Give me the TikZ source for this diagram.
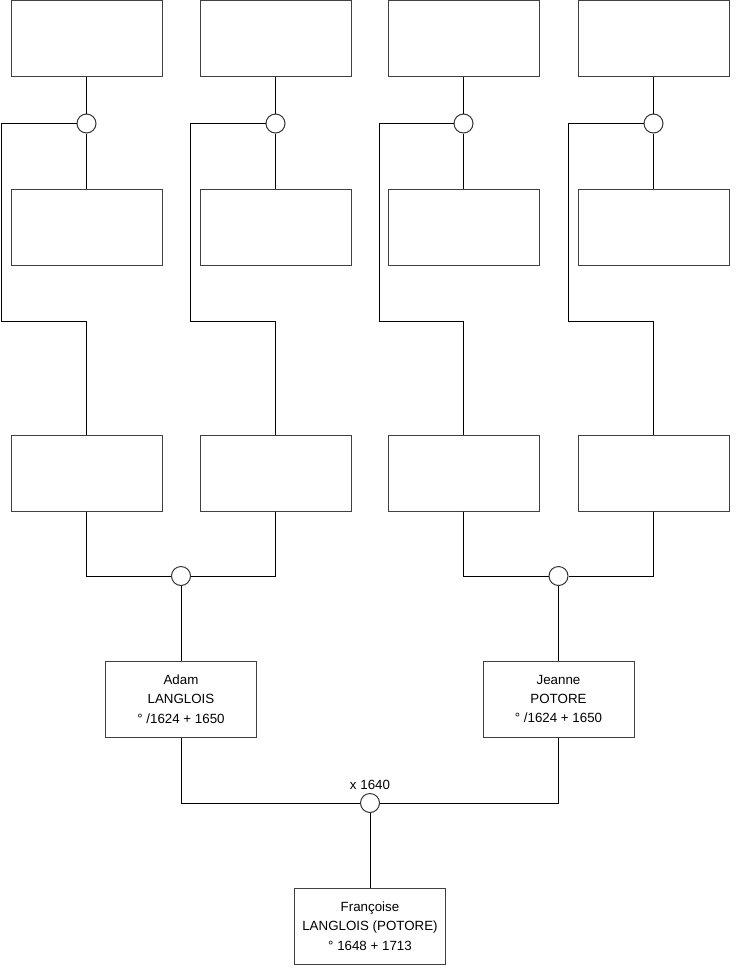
\documentclass[tikz,border=0pt]{standalone}
\usepackage{fontspec}
\setmainfont{Liberation Sans}
\begin{document}
\begin{tikzpicture}[x=0.75pt,y=-0.75pt,
  person/.style={draw=black!75, line width=0.75pt, minimum width=113.25pt, minimum height=57pt, inner sep=0pt, align=center, font=\fontsize{10}{14.6}\selectfont},
  union/.style={draw=black!80, line width=0.75pt, circle, minimum size=14.25pt, inner sep=0pt, fill=white},
  link/.style={line width=0.75pt, black}]
\useasboundingbox (0,0) rectangle (740,975);
% top row
\foreach \i/\x in {1/86.5,2/275.5,3/463.5,4/653.5}{
  \node[person] (t\i) at (\x,38.5) {};
  \node[person] (s\i) at (\x,227) {};
  \node[person] (g\i) at (\x,473) {};
  \node[union] (c\i) at (\x,123.5) {};
}
\foreach \i/\x in {1/1,2/190,3/379,4/568}{
  \coordinate (l\i) at (\x,321.5);
}
\foreach \i in {1,2,3,4}{
  \draw[link] (t\i.south) -- (c\i.north);
  \draw[link] (c\i.south) -- (s\i.north);
  \draw[link] (c\i.west) -| (l\i) -| (g\i.north);
}
\node[union] (p1) at (181,576) {};
\node[union] (p2) at (558.5,576) {};
\draw[link] (g1.south) |- (p1.west);
\draw[link] (g2.south) |- (p1.east);
\draw[link] (g3.south) |- (p2.west);
\draw[link] (g4.south) |- (p2.east);
\node[person] (adam) at (181,699) {Adam\\LANGLOIS\\° /1624 + 1650};
\node[person] (jeanne) at (558.5,699) {Jeanne\\POTORE\\° /1624 + 1650};
\draw[link] (p1.south) -- (adam.north);
\draw[link] (p2.south) -- (jeanne.north);
\node[union] (m) at (370,803) {};
\node[font=\fontsize{10}{12}\selectfont, inner sep=0pt] (mlabel) at (370,785) {x 1640};
\draw[link] (adam.south) |- (m.west);
\draw[link] (jeanne.south) |- (m.east);
\node[person] (fr) at (370,926) {Françoise\\LANGLOIS (POTORE)\\° 1648 + 1713};
\draw[link] (m.south) -- (fr.north);
\end{tikzpicture}
\end{document}
